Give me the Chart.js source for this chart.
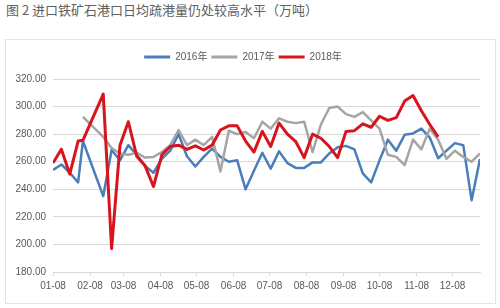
<!DOCTYPE html>
<html>
<head>
<meta charset="utf-8">
<script src="https://cdn.jsdelivr.net/npm/chart.js@4.4.0/dist/chart.umd.min.js"></script>
<style>
  body { margin: 0; background: #fff; width: 500px; height: 308px; overflow: hidden; }
  .title { position: absolute; left: 6px; top: 0px; font-size: 13px; color: #606060;
           font-family: "Noto Sans CJK SC", sans-serif; white-space: nowrap; }
  .box { position: absolute; left: 5px; top: 39px; width: 489px; height: 263px; border: 1px solid #e4e4e4; }
  .box canvas { display: block; }
</style>
</head>
<body>
<div class="title">图 2 进口铁矿石港口日均疏港量仍处较高水平（万吨）</div>
<div class="box"><canvas id="c" width="489" height="263"></canvas></div>
<script>
// weekly dates (MM-DD), shared by all three years
var dates = ['01-08','01-15','01-22','01-29','02-02','02-19','02-26','03-05','03-12','03-19','03-26',
  '04-02','04-09','04-16','04-23','04-30','05-07','05-14','05-21','05-28','06-04','06-11','06-18','06-25',
  '07-02','07-09','07-16','07-23','07-30','08-06','08-13','08-20','08-27','09-03','09-10','09-17','09-24',
  '10-01','10-08','10-15','10-22','10-29','11-05','11-12','11-19','11-26','12-03','12-10','12-17','12-24','12-31'];

var y2016 = [254,258,252,245,275,235,268.5,261,272,265,257,
  252,262,268,280,264,256.5,263.5,269.5,263.5,260,261,240,253.5,
  266.5,255,267.5,259,255.5,255.5,259.5,259.5,266,270.5,271.5,269,251.5,
  245,261,276,268,279.5,280.5,284,277.5,262.5,268,273.5,272,232,262];

var y2017 = [null,null,null,null,292.5,278,270,266,265,266.5,263,
  263.5,267,272,283,272,276,272,278,253,282.5,280,281.5,277,
  289,284,291.5,289,288,289,267,287,299,300,294.5,292.5,296,
  290,284,265,263.5,257.5,276,269,284,276,262,268,263.5,260,266];

var y2018 = [259,269,251,275,275.5,309,197,272,289,264,257,
  242,265,271,272,269,271.5,268.5,272,283,286,286,275,267,
  282,271,288,280,274.5,263,280,277,271,263,282,282.5,287.5,
  285,293,290,292,304,308,297,287,278,null,null,null,null,null];

var monthTicks = ['01-08','02-08','03-08','04-08','05-08','06-08','07-08','08-08','09-08','10-08','11-08','12-08'];

function dayOf(md) {
    var p = md.split('-').map(Number);
    return (Date.UTC(2017, p[0] - 1, p[1]) - Date.UTC(2017, 0, 8)) / 86400000;
}

function points(values) {
    return dates.map(function (d, i) { return { x: dayOf(d), y: values[i] }; });
}

var tickLabel = {};
monthTicks.forEach(function (m) { tickLabel[dayOf(m)] = m; });

var font = { family: '"Liberation Sans", "Noto Sans CJK SC", sans-serif', size: 10 };

// push the plot down a little below the legend
var legendGap = {
    id: 'legendGap',
    beforeInit: function (chart) {
        var fit = chart.legend.fit;
        chart.legend.fit = function () { fit.bind(this)(); this.height += 7; };
    }
};

new Chart(document.getElementById('c'), {
    type: 'line',
    data: {
        datasets: [
            { label: '2016年', data: points(y2016), borderColor: '#4A7EBB', backgroundColor: '#4A7EBB', borderWidth: 2.5, order: 3 },
            { label: '2017年', data: points(y2017), borderColor: '#A5A5A5', backgroundColor: '#A5A5A5', borderWidth: 2.5, order: 2 },
            { label: '2018年', data: points(y2018), borderColor: '#D8141C', backgroundColor: '#D8141C', borderWidth: 3, order: 1 }
        ]
    },
    options: {
        responsive: false,
        animation: false,
        layout: { padding: { top: 8, right: 15, left: 0, bottom: 0 } },
        elements: { point: { radius: 0 }, line: { tension: 0, borderJoinStyle: 'round' } },
        plugins: {
            tooltip: { enabled: false },
            legend: {
                position: 'top',
                labels: {
                    font: font, color: '#595959', boxWidth: 26, boxHeight: 3, padding: 4,
                    sort: function (a, b) { return a.datasetIndex - b.datasetIndex; },
                    generateLabels: function (chart) {
                        var items = Chart.defaults.plugins.legend.labels.generateLabels(chart);
                        items.forEach(function (it) { it.lineWidth = 0; });
                        return items;
                    }
                }
            }
        },
        scales: {
            x: {
                type: 'linear',
                min: 0,
                max: dayOf(dates[dates.length - 1]),
                afterBuildTicks: function (axis) {
                    axis.ticks = monthTicks.map(function (m) { return { value: dayOf(m) }; });
                },
                afterFit: function (axis) { axis.height = 31; },
                grid: { drawOnChartArea: false, drawTicks: true, tickLength: 4, color: '#d9d9d9' },
                border: { color: '#d9d9d9' },
                ticks: {
                    font: font, color: '#595959', padding: 4, maxRotation: 0, autoSkip: false,
                    callback: function (v) { return tickLabel[v] || ''; }
                }
            },
            y: {
                min: 180,
                max: 320,
                afterFit: function (axis) { axis.width = 47; },
                grid: { color: '#d9d9d9', drawTicks: false },
                border: { display: false },
                ticks: {
                    stepSize: 20, font: font, color: '#595959', padding: 7,
                    callback: function (v) { return v.toFixed(2); }
                }
            }
        }
    },
    plugins: [legendGap]
});
</script>
</body>
</html>
